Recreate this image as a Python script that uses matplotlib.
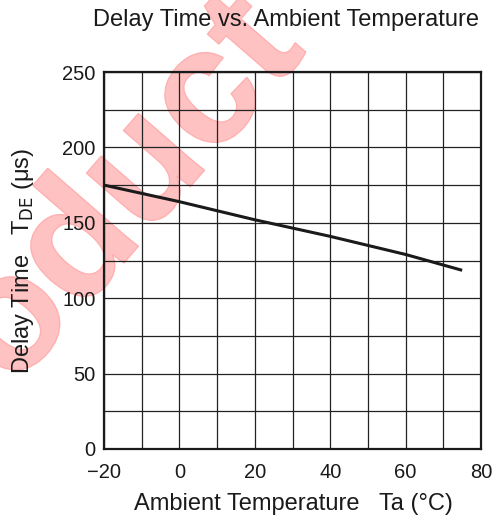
import matplotlib
matplotlib.use("Agg")
import matplotlib.pyplot as plt
import numpy as np
from matplotlib.textpath import TextPath
from matplotlib.patches import PathPatch
from matplotlib.font_manager import FontProperties
from matplotlib.transforms import Affine2D

plt.rcParams['font.family'] = ['Liberation Sans', 'DejaVu Sans']

# data
temp = [-20, 0, 20, 40, 60, 75]
delay = [175, 164, 152, 141, 129, 118.5]
xticks = [-20, 0, 20, 40, 60, 80]
yticks = [0, 50, 100, 150, 200, 250]

W, H = 500, 522
fig = plt.figure(figsize=(W / 100, H / 100), dpi=100)

# watermark behind everything
bg = fig.add_axes([0, 0, 1, 1], zorder=0)
bg.set_xlim(0, W)
bg.set_ylim(0, H)
bg.axis('off')
tp = TextPath((0, 0), "Product", size=165,
              prop=FontProperties(family='Liberation Sans', weight='bold'))
tr = Affine2D().translate(-426, -43).rotate_deg(49).translate(146, H - 172)
path = tr.transform_path(tp)
bg.add_patch(PathPatch(path, facecolor='#ffc2c2', edgecolor='#ffb0b0', lw=1))

ax = fig.add_axes([104 / W, (H - 449) / H, 377 / W, 377 / H], zorder=1)
ax.set_facecolor('none')
ax.plot(temp, delay, color='#1a1a1a', lw=2.2, solid_capstyle='butt')

ax.set_xlim(-20, 80)
ax.set_ylim(0, 250)
ax.set_xticks(xticks)
ax.set_yticks(yticks)
ax.set_xticks(np.arange(-20, 81, 10), minor=True)
ax.set_yticks(np.arange(0, 251, 25), minor=True)
ax.grid(True, which='both', color='#222222', lw=0.9)
ax.tick_params(which='both', length=0)
ax.tick_params(axis='x', pad=10, labelsize=14.5, colors='#1a1a1a')
ax.tick_params(axis='y', pad=6, labelsize=14.5, colors='#1a1a1a')
for s in ax.spines.values():
    s.set_linewidth(1.6)
    s.set_color('#1a1a1a')

fig.text(286 / W, 1 - 20 / H, "Delay Time vs. Ambient Temperature",
         ha='center', va='center', fontsize=17, color='#1a1a1a')
fig.text(293 / W, 1 - 504 / H, "Ambient Temperature   Ta (°C)",
         ha='center', va='center', fontsize=17, color='#1a1a1a')
fig.text(23 / W, 1 - 261 / H, "Delay Time   T$_{\\mathrm{DE}}$ (μs)",
         ha='center', va='center', rotation=90, fontsize=17, color='#1a1a1a')

fig.savefig("out.png", dpi=100)
